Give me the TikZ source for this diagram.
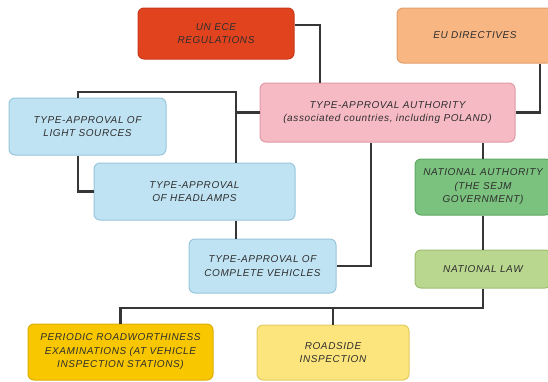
\documentclass[tikz,border=0pt]{standalone}
\usepackage{fontspec}
\setmainfont{Liberation Sans}[LetterSpace=6]
\usetikzlibrary{calc}
\definecolor{txt}{HTML}{2E2E2E}
\definecolor{lin}{HTML}{363636}
\definecolor{unfill}{HTML}{E2431F}
\definecolor{undraw}{HTML}{C8391A}
\definecolor{eufill}{HTML}{F8B683}
\definecolor{eudraw}{HTML}{E29E6C}
\definecolor{tafill}{HTML}{F6BAC4}
\definecolor{tadraw}{HTML}{DE9AA6}
\definecolor{blfill}{HTML}{C0E3F3}
\definecolor{bldraw}{HTML}{98C6DB}
\definecolor{nafill}{HTML}{7BC27F}
\definecolor{nadraw}{HTML}{5FA865}
\definecolor{nlfill}{HTML}{BAD78F}
\definecolor{nldraw}{HTML}{9DBE72}
\definecolor{prfill}{HTML}{F9C700}
\definecolor{prdraw}{HTML}{DDAE00}
\definecolor{rsfill}{HTML}{FCE57C}
\definecolor{rsdraw}{HTML}{E2CB62}
\tikzset{
  box/.style={rounded corners=6pt, line width=1pt, inner sep=0pt, align=center,
    text=txt, font=\fontsize{10}{13.5}\selectfont\itshape},
  conn/.style={draw=lin, line width=2.2pt}
}
\begin{document}
\begin{tikzpicture}[x=1pt,y=-1pt]
\useasboundingbox (0,0) rectangle (548,381);
\clip (0,0) rectangle (548,381);
% boxes
\node[box, fill=unfill, draw=undraw, minimum width=156pt, minimum height=51pt] (UN) at (216,33.5) {UN ECE\\REGULATIONS};
\node[box, fill=eufill, draw=eudraw, minimum width=156pt, minimum height=55pt] (EU) at (475,35.5) {EU DIRECTIVES};
\node[box, fill=tafill, draw=tadraw, minimum width=255pt, minimum height=59pt] (TA) at (387.5,112.5) {TYPE-APPROVAL AUTHORITY\\(associated countries, including POLAND)};
\node[box, fill=blfill, draw=bldraw, minimum width=157pt, minimum height=57pt] (LS) at (87.5,126.5) {TYPE-APPROVAL OF\\LIGHT SOURCES};
\node[box, fill=blfill, draw=bldraw, minimum width=201pt, minimum height=57pt] (HL) at (194.5,191.5) {TYPE-APPROVAL\\OF HEADLAMPS};
\node[box, fill=blfill, draw=bldraw, minimum width=147pt, minimum height=54pt] (CV) at (262.5,266) {TYPE-APPROVAL OF\\COMPLETE VEHICLES};
\node[box, fill=nafill, draw=nadraw, minimum width=136pt, minimum height=56pt] (NA) at (483,187) {NATIONAL AUTHORITY\\(THE SEJM\\GOVERNMENT)};
\node[box, fill=nlfill, draw=nldraw, minimum width=136pt, minimum height=38pt] (NL) at (483,269) {NATIONAL LAW};
\node[box, fill=prfill, draw=prdraw, minimum width=185pt, minimum height=56pt] (PR) at (120.5,352) {PERIODIC ROADWORTHINESS\\EXAMINATIONS (AT VEHICLE\\INSPECTION STATIONS)};
\node[box, fill=rsfill, draw=rsdraw, minimum width=152pt, minimum height=55pt] (RS) at (333,352.5) {ROADSIDE\\INSPECTION};
% junction coordinates
\coordinate (j1) at (236,92);
\coordinate (bus) at (0,308);
\coordinate (unout) at ([yshift=8.5pt]UN.east);
\coordinate (tain) at ([xshift=-67.5pt]TA.north);
\coordinate (euout) at ([xshift=65pt]EU.south);
\coordinate (lstop) at ([xshift=-9.5pt]LS.north);
\coordinate (lsbot) at ([xshift=-9.5pt]LS.south);
\coordinate (hltop) at (j1 |- HL.north);
\coordinate (hlbot) at (j1 |- HL.south);
\coordinate (tacv) at ([xshift=-16.5pt]TA.south);
% connectors
\draw[conn] (unout) -| (tain);
\draw[conn] (euout) |- (TA.east);
\draw[conn] (lstop) |- (j1) -- (hltop);
\draw[conn] (TA.west) -- (TA.west -| j1);
\draw[conn] (lsbot) |- (HL.west);
\draw[conn] (hlbot) -- (hlbot |- CV.north);
\draw[conn] (tacv) |- (CV.east);
\draw[conn] (NA.north |- TA.south) -- (NA.north);
\draw[conn] (NA.south) -- (NL.north);
\draw[conn] (NL.south) -- (NL.south |- bus) -| (PR.north);
\draw[conn] (RS.north) -- (RS.north |- bus);
\end{tikzpicture}
\end{document}
